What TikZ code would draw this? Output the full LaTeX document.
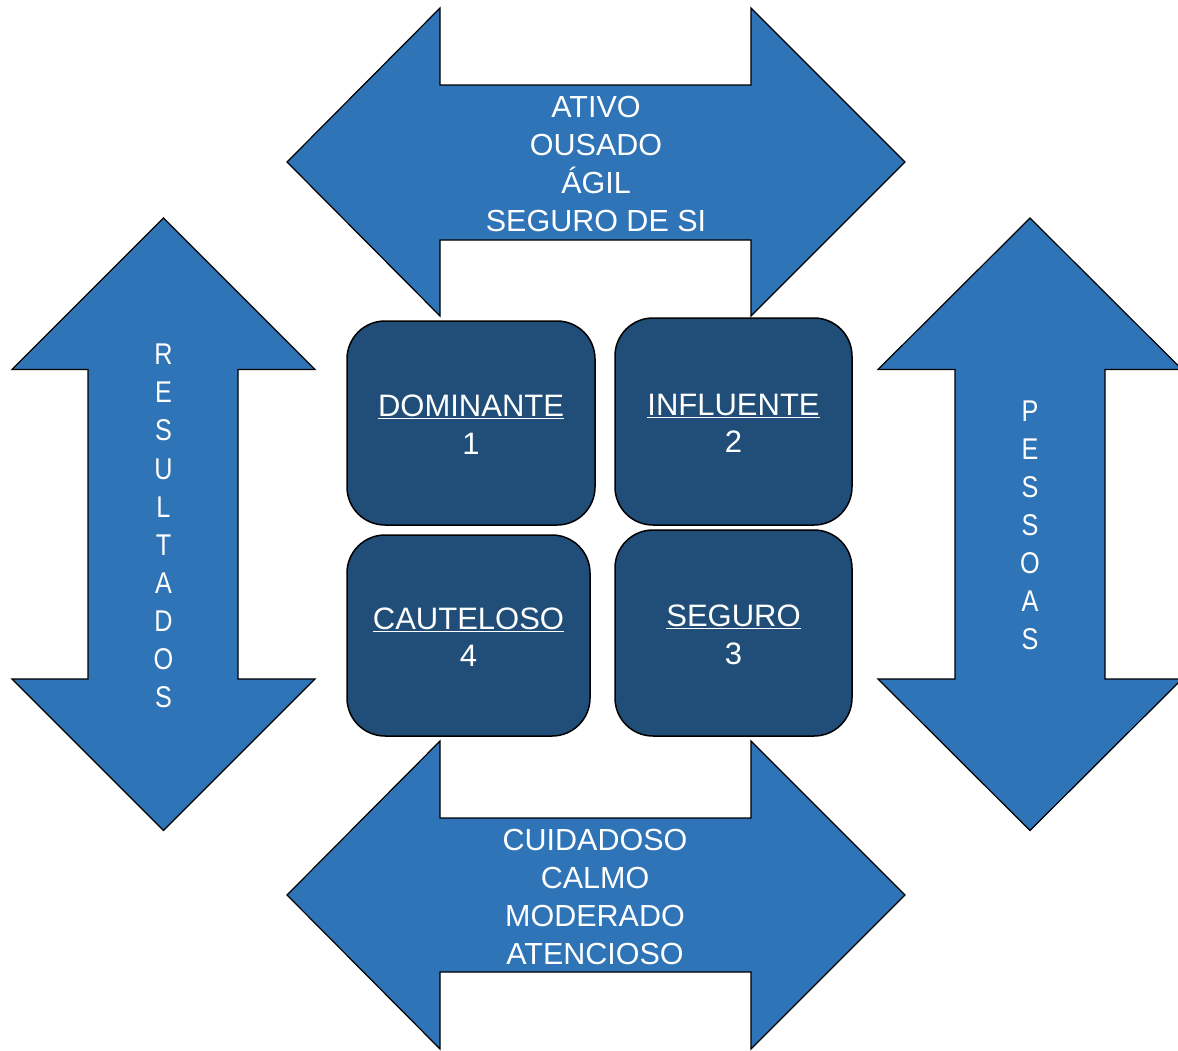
\documentclass[tikz,border=0pt]{standalone}
\usepackage{fontspec}
\setmainfont{Liberation Sans}
\newfontfamily\narrowfont{Liberation Sans}[FakeStretch=0.84]
\definecolor{arrowblue}{RGB}{46,116,182}
\definecolor{boxblue}{RGB}{32,78,120}
\newcommand{\firstline}{\rule{0pt}{25pt}}
\tikzset{
  bigarrow/.style={fill=arrowblue,draw=black,line width=1.2pt,line join=miter},
  quad/.style={rectangle,rounded corners=38pt,fill=boxblue,draw=black,line width=1.5pt,
    text=white,align=center,inner sep=0pt,font=\fontsize{31}{37.5}\selectfont},
  arrowtext/.style={text=white,align=center,inner sep=0pt,font=\fontsize{30.5}{38}\selectfont},
  vtext/.style={text=white,align=center,inner sep=0pt,font=\narrowfont\fontsize{30}{38.1}\selectfont}
}
\begin{document}
\begin{tikzpicture}[x=1pt,y=-1pt]
\useasboundingbox (0,0) rectangle (1178,1050);
\clip (0,0) rectangle (1178,1050);
% top arrow
\draw[bigarrow] (287,162) -- (440,8) -- (440,85) -- (751,85) -- (751,8) -- (905,162)
  -- (751,316) -- (751,240) -- (440,240) -- (440,316) -- cycle;
% bottom arrow
\draw[bigarrow] (287,895) -- (440,741) -- (440,818) -- (751,818) -- (751,741) -- (905,895)
  -- (751,1049) -- (751,972) -- (440,972) -- (440,1049) -- cycle;
% left arrow
\draw[bigarrow] (163.5,218) -- (315,369.5) -- (238,369.5) -- (238,679) -- (315,679) -- (163.5,830.5)
  -- (12,679) -- (88,679) -- (88,369.5) -- (12,369.5) -- cycle;
% right arrow
\draw[bigarrow] (1030,218) -- (1182,369.5) -- (1105,369.5) -- (1105,679) -- (1182,679) -- (1030,830.5)
  -- (878,679) -- (955,679) -- (955,369.5) -- (878,369.5) -- cycle;
% texts on arrows
\node[arrowtext] (toptext) at (596,164) {ATIVO\\OUSADO\\ÁGIL\\SEGURO DE SI};
\node[arrowtext] (bottext) at (595,897) {CUIDADOSO\\CALMO\\MODERADO\\ATENCIOSO};
\node[vtext] (lefttext) at (163.5,526) {R\\E\\S\\U\\L\\T\\A\\D\\O\\S};
\node[vtext] (righttext) at (1030,525.5) {P\\E\\S\\S\\O\\A\\S};
% central boxes
\node[quad,minimum width=248pt,minimum height=204pt] (dom) at (471,423) {\firstline\underline{DOMINANTE}\\1};
\node[quad,minimum width=237pt,minimum height=207pt] (inf) at (733.5,421.5) {\firstline\underline{INFLUENTE}\\2};
\node[quad,minimum width=243pt,minimum height=201pt] (cau) at (468.5,635.5) {\firstline\underline{CAUTELOSO}\\4};
\node[quad,minimum width=237pt,minimum height=206pt] (seg) at (733.5,633) {\firstline\underline{SEGURO}\\3};
\end{tikzpicture}
\end{document}
